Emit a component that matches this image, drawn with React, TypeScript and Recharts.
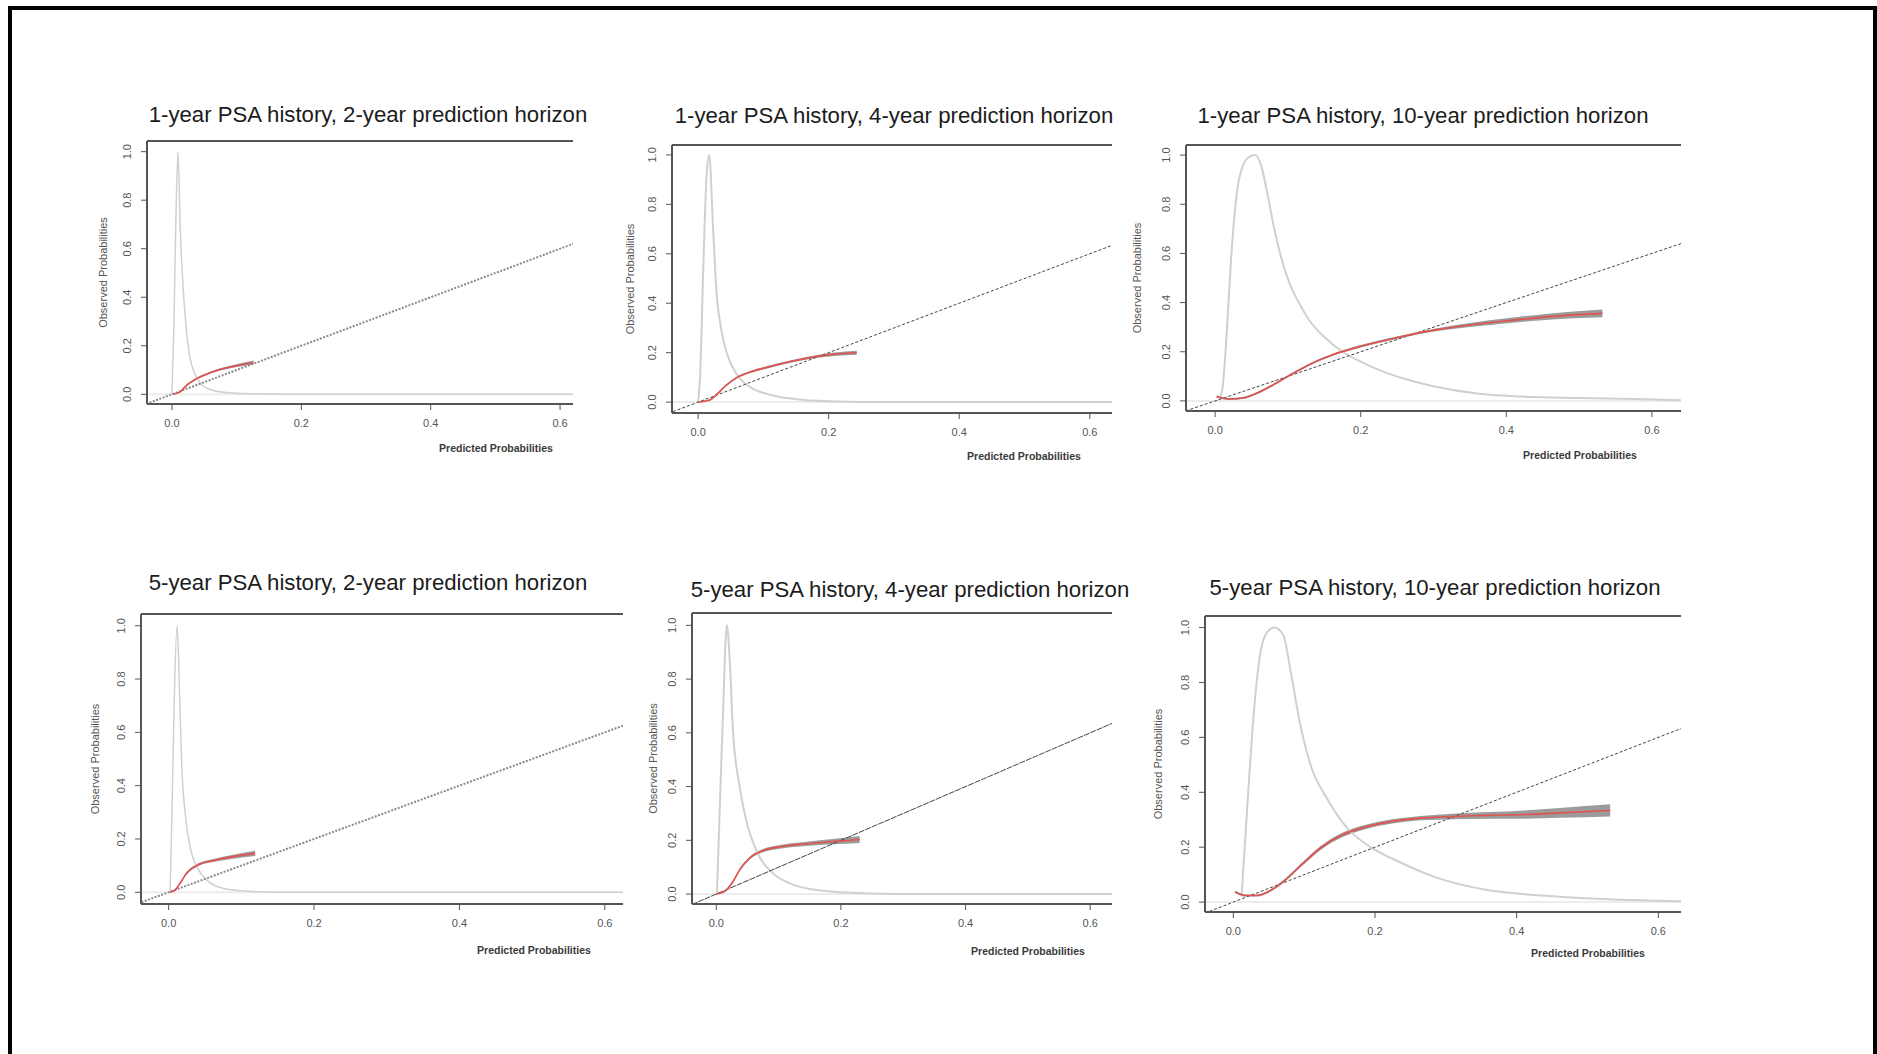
import React from 'react';
import { ComposedChart, Line, Area, XAxis, YAxis, ReferenceLine, Label } from 'recharts';

const FONT = "'Liberation Sans', Arial, sans-serif";

const TICKS_X = [0, 0.2, 0.4, 0.6];
const TICKS_Y = [0, 0.2, 0.4, 0.6, 0.8, 1.0];
const X_TITLE = 'Predicted Probabilities';
const Y_TITLE = 'Observed Probabilities';
const DIAGONAL = [-0.06, 0.7];

const PANEL_TITLES = [
  '1-year PSA history, 2-year prediction horizon',
  '1-year PSA history, 4-year prediction horizon',
  '1-year PSA history, 10-year prediction horizon',
  '5-year PSA history, 2-year prediction horizon',
  '5-year PSA history, 4-year prediction horizon',
  '5-year PSA history, 10-year prediction horizon',
];

// 1-year history, 2-year horizon
const P1_DENS_X = [0.0, 0.003, 0.006, 0.0093, 0.0128, 0.018, 0.023, 0.028, 0.039, 0.054, 0.08, 0.12, 0.2, 0.62];
const P1_DENS_Y = [0.0, 0.28, 0.72, 1.0, 0.68, 0.41, 0.245, 0.15, 0.066, 0.025, 0.008, 0.002, 0.0, 0.0];
const P1_CAL_X = [0.002, 0.013, 0.023, 0.034, 0.044, 0.059, 0.08, 0.1, 0.126];
const P1_CAL_Y = [0.0, 0.011, 0.038, 0.058, 0.072, 0.089, 0.106, 0.118, 0.131];
const P1_CAL_CI = [0.004, 0.004, 0.004, 0.004, 0.004, 0.004, 0.005, 0.006, 0.008];

// 1-year history, 4-year horizon
const P2_DENS_X = [0.0, 0.003, 0.008, 0.013, 0.017, 0.023, 0.028, 0.035, 0.045, 0.06, 0.08, 0.11, 0.15, 0.2, 0.3, 0.64];
const P2_DENS_Y = [0.0, 0.1, 0.55, 0.92, 1.0, 0.7, 0.45, 0.3, 0.19, 0.11, 0.06, 0.03, 0.012, 0.004, 0.0, 0.0];
const P2_CAL_X = [0.0, 0.018, 0.028, 0.043, 0.059, 0.08, 0.106, 0.142, 0.178, 0.209, 0.243];
const P2_CAL_Y = [0.0, 0.009, 0.03, 0.068, 0.099, 0.122, 0.141, 0.164, 0.183, 0.194, 0.2];
const P2_CAL_CI = [0.004, 0.004, 0.004, 0.004, 0.004, 0.004, 0.005, 0.005, 0.006, 0.007, 0.008];

// 1-year history, 10-year horizon
const P3_DENS_X = [0.004, 0.01, 0.016, 0.022, 0.03, 0.04, 0.048, 0.055, 0.063, 0.072, 0.082, 0.092, 0.102, 0.115, 0.13, 0.15, 0.175, 0.2, 0.23, 0.26, 0.3, 0.36, 0.42, 0.5, 0.58, 0.64];
const P3_DENS_Y = [0.0, 0.05, 0.28, 0.58, 0.85, 0.97, 0.995, 1.0, 0.96, 0.84, 0.69, 0.57, 0.48, 0.4, 0.325, 0.26, 0.2, 0.16, 0.12, 0.09, 0.06, 0.03, 0.018, 0.012, 0.008, 0.003];
const P3_CAL_X = [0.002, 0.019, 0.038, 0.057, 0.08, 0.1, 0.12, 0.14, 0.16, 0.2, 0.2555, 0.303, 0.35, 0.398, 0.445, 0.492, 0.532];
const P3_CAL_Y = [0.018, 0.008, 0.012, 0.031, 0.066, 0.1, 0.133, 0.162, 0.186, 0.222, 0.261, 0.289, 0.309, 0.325, 0.339, 0.35, 0.356];
const P3_CAL_CI = [0.004, 0.004, 0.004, 0.004, 0.004, 0.004, 0.004, 0.004, 0.004, 0.005, 0.005, 0.006, 0.008, 0.01, 0.012, 0.014, 0.016];

// 5-year history, 2-year horizon
const P4_DENS_X = [0.002, 0.005, 0.0078, 0.0117, 0.015, 0.018, 0.023, 0.03, 0.04, 0.055, 0.075, 0.1, 0.15, 0.625];
const P4_DENS_Y = [0.0, 0.35, 0.73, 1.0, 0.75, 0.48, 0.29, 0.165, 0.09, 0.04, 0.015, 0.006, 0.0, 0.0];
const P4_CAL_X = [0.002, 0.009, 0.0157, 0.0255, 0.0402, 0.0648, 0.094, 0.119];
const P4_CAL_Y = [0.0, 0.008, 0.034, 0.074, 0.1025, 0.121, 0.136, 0.146];
const P4_CAL_CI = [0.004, 0.004, 0.004, 0.005, 0.005, 0.006, 0.008, 0.01];

// 5-year history, 4-year horizon
const P5_DENS_X = [0.001, 0.0053, 0.0107, 0.017, 0.022, 0.0267, 0.0375, 0.048, 0.064, 0.091, 0.118, 0.161, 0.225, 0.3, 0.64];
const P5_DENS_Y = [0.0, 0.3, 0.67, 1.0, 0.85, 0.61, 0.4, 0.275, 0.164, 0.077, 0.04, 0.015, 0.004, 0.0, 0.0];
const P5_CAL_X = [0.0, 0.016, 0.0267, 0.0375, 0.0535, 0.075, 0.102, 0.145, 0.187, 0.23];
const P5_CAL_Y = [0.0, 0.015, 0.046, 0.09, 0.134, 0.162, 0.176, 0.187, 0.195, 0.203];
const P5_CAL_CI = [0.004, 0.004, 0.004, 0.005, 0.005, 0.006, 0.007, 0.008, 0.01, 0.013];

// 5-year history, 10-year horizon
const P6_DENS_X = [0.0116, 0.02, 0.028, 0.038, 0.048, 0.058, 0.0706, 0.0806, 0.0933, 0.1084, 0.1337, 0.1639, 0.194, 0.2345, 0.285, 0.3606, 0.436, 0.512, 0.632];
const P6_DENS_Y = [0.02, 0.36, 0.66, 0.905, 0.984, 1.0, 0.972, 0.845, 0.662, 0.505, 0.371, 0.261, 0.2, 0.146, 0.091, 0.043, 0.024, 0.012, 0.003];
const P6_CAL_X = [0.0025, 0.0177, 0.033, 0.053, 0.073, 0.098, 0.1236, 0.154, 0.184, 0.2245, 0.2647, 0.31, 0.3606, 0.411, 0.461, 0.532];
const P6_CAL_Y = [0.037, 0.024, 0.024, 0.043, 0.08, 0.14, 0.198, 0.245, 0.272, 0.294, 0.306, 0.312, 0.316, 0.319, 0.325, 0.334];
const P6_CAL_CI = [0.004, 0.004, 0.004, 0.004, 0.005, 0.006, 0.007, 0.008, 0.008, 0.008, 0.008, 0.01, 0.012, 0.015, 0.018, 0.022];

const SERIES = [
  { densX: P1_DENS_X, densY: P1_DENS_Y, calX: P1_CAL_X, calY: P1_CAL_Y, ci: P1_CAL_CI },
  { densX: P2_DENS_X, densY: P2_DENS_Y, calX: P2_CAL_X, calY: P2_CAL_Y, ci: P2_CAL_CI },
  { densX: P3_DENS_X, densY: P3_DENS_Y, calX: P3_CAL_X, calY: P3_CAL_Y, ci: P3_CAL_CI },
  { densX: P4_DENS_X, densY: P4_DENS_Y, calX: P4_CAL_X, calY: P4_CAL_Y, ci: P4_CAL_CI },
  { densX: P5_DENS_X, densY: P5_DENS_Y, calX: P5_CAL_X, calY: P5_CAL_Y, ci: P5_CAL_CI },
  { densX: P6_DENS_X, densY: P6_DENS_Y, calX: P6_CAL_X, calY: P6_CAL_Y, ci: P6_CAL_CI },
];

// plot boxes in page pixels; each R panel is cropped on its right side
const LAYOUT = [
  { left: 147, top: 141, right: 573, bottom: 404, xDomain: [-0.0386, 0.62], yDomain: [-0.04, 1.044], titleX: 368, titleY: 115, xLabelX: 496, xLabelY: 448, yLabelX: 103, dotted: true },
  { left: 672, top: 145, right: 1112, bottom: 413, xDomain: [-0.04, 0.634], yDomain: [-0.044, 1.04], titleX: 894, titleY: 116, xLabelX: 1024, xLabelY: 456, yLabelX: 630, dotted: false },
  { left: 1186, top: 145, right: 1681, bottom: 411, xDomain: [-0.04, 0.64], yDomain: [-0.041, 1.041], titleX: 1423, titleY: 116, xLabelX: 1580, xLabelY: 455, yLabelX: 1137, dotted: false },
  { left: 141, top: 614, right: 623, bottom: 904, xDomain: [-0.038, 0.625], yDomain: [-0.044, 1.044], titleX: 368, titleY: 583, xLabelX: 534, xLabelY: 950, yLabelX: 95, dotted: true },
  { left: 692, top: 613, right: 1112, bottom: 904, xDomain: [-0.039, 0.635], yDomain: [-0.037, 1.046], titleX: 910, titleY: 590, xLabelX: 1028, xLabelY: 951, yLabelX: 653, dotted: false },
  { left: 1205, top: 616, right: 1681, bottom: 912, xDomain: [-0.04, 0.632], yDomain: [-0.036, 1.042], titleX: 1435, titleY: 588, xLabelX: 1588, xLabelY: 953, yLabelX: 1158, dotted: false },
];

const Y_AXIS_W = 64;
const X_AXIS_H = 64;
const TOP_PAD = 4;

const toPoints = (xs: number[], ys: number[]) => xs.map((x, i) => ({ x, y: ys[i] }));
const toBand = (xs: number[], ys: number[], ci: number[]) =>
  xs.map((x, i) => ({ x, band: [ys[i] - ci[i], ys[i] + ci[i]] }));

const XTick = (props: any) => {
  const { x, y, payload } = props;
  return (
    <text x={x} y={y + 13} textAnchor="middle" dominantBaseline="central" fontSize={11} fontFamily={FONT} fill="#555">
      {Number(payload.value).toFixed(1)}
    </text>
  );
};

const YTick = (props: any) => {
  const { x, y, payload } = props;
  const cx = x - 14;
  return (
    <text
      x={cx}
      y={y}
      transform={`rotate(-90, ${cx}, ${y})`}
      textAnchor="middle"
      dominantBaseline="central"
      fontSize={11}
      fontFamily={FONT}
      fill="#555"
    >
      {Number(payload.value).toFixed(1)}
    </text>
  );
};

function CalibrationPanel({ idx }: { idx: number }) {
  const cfg = LAYOUT[idx];
  const s = SERIES[idx];
  const plotW = cfg.right - cfg.left;
  const plotH = cfg.bottom - cfg.top;
  const originX = cfg.left - Y_AXIS_W;
  const originY = cfg.top - TOP_PAD;

  const density = toPoints(s.densX, s.densY);
  const calib = toPoints(s.calX, s.calY);
  const band = toBand(s.calX, s.calY, s.ci);
  const diag = toPoints(DIAGONAL, DIAGONAL);

  const xTitle = () => (
    <text
      x={cfg.xLabelX - originX}
      y={cfg.xLabelY - originY}
      textAnchor="middle"
      dominantBaseline="central"
      fontSize={10.5}
      fontWeight="bold"
      fontFamily={FONT}
      fill="#3a3a3a"
    >
      {X_TITLE}
    </text>
  );
  const yTitle = () => {
    const cx = cfg.yLabelX - originX;
    const cy = TOP_PAD + plotH / 2;
    return (
      <text
        x={cx}
        y={cy}
        transform={`rotate(-90, ${cx}, ${cy})`}
        textAnchor="middle"
        dominantBaseline="central"
        fontSize={11}
        fontFamily={FONT}
        fill="#555"
      >
        {Y_TITLE}
      </text>
    );
  };

  return (
    <>
      <div
        style={{
          position: 'absolute',
          left: cfg.titleX - 300,
          top: cfg.titleY - 14,
          width: 600,
          lineHeight: '28px',
          textAlign: 'center',
          fontFamily: FONT,
          fontSize: 22.2,
          color: '#1c1c1c',
        }}
      >
        {PANEL_TITLES[idx]}
      </div>
      <div style={{ position: 'absolute', left: originX, top: originY }}>
        <ComposedChart
          width={plotW + Y_AXIS_W}
          height={plotH + TOP_PAD + X_AXIS_H}
          margin={{ top: TOP_PAD, right: 0, bottom: 0, left: 0 }}
        >
          <XAxis
            type="number"
            dataKey="x"
            domain={cfg.xDomain}
            allowDataOverflow
            ticks={TICKS_X}
            height={X_AXIS_H}
            tickSize={6}
            tickMargin={0}
            tick={<XTick />}
            axisLine={{ stroke: '#555', strokeWidth: 2 }}
            tickLine={{ stroke: '#555' }}
          >
            <Label content={xTitle} />
          </XAxis>
          <YAxis
            type="number"
            domain={cfg.yDomain}
            allowDataOverflow
            ticks={TICKS_Y}
            width={Y_AXIS_W}
            tickSize={6}
            tickMargin={0}
            tick={<YTick />}
            axisLine={{ stroke: '#555', strokeWidth: 2 }}
            tickLine={{ stroke: '#555' }}
          >
            <Label content={yTitle} />
          </YAxis>
          <ReferenceLine y={cfg.yDomain[1]} stroke="#555" strokeWidth={2} />
          <ReferenceLine y={0} stroke="#ececec" strokeWidth={2} />
          <Line
            data={density}
            dataKey="y"
            type="monotone"
            stroke="#d0d0d0"
            strokeWidth={cfg.dotted ? 1.5 : 2}
            dot={false}
            activeDot={false}
            isAnimationActive={false}
          />
          <Line
            data={diag}
            dataKey="y"
            type="linear"
            stroke={cfg.dotted ? '#8a8a8a' : '#444'}
            strokeWidth={cfg.dotted ? 2 : 1}
            strokeDasharray={cfg.dotted ? '2 1.5' : idx === 4 ? '6 1' : '3 2'}
            dot={false}
            activeDot={false}
            isAnimationActive={false}
          />
          <Area
            data={band}
            dataKey="band"
            type="monotone"
            stroke="none"
            fill="#8a8a8a"
            fillOpacity={0.85}
            isAnimationActive={false}
          />
          <Line
            data={calib}
            dataKey="y"
            type="monotone"
            stroke="#e2534f"
            strokeWidth={1.6}
            dot={false}
            activeDot={false}
            isAnimationActive={false}
          />
        </ComposedChart>
      </div>
    </>
  );
}

export default function App() {
  return (
    <div
      style={{
        position: 'absolute',
        left: 0,
        top: 0,
        width: 1877,
        height: 1054,
        overflow: 'hidden',
        background: '#fff',
      }}
    >
      <div
        style={{
          position: 'absolute',
          left: 8,
          top: 6,
          width: 1869,
          height: 1200,
          boxSizing: 'border-box',
          border: '4px solid #000',
        }}
      />
      {LAYOUT.map((_, i) => (
        <CalibrationPanel key={i} idx={i} />
      ))}
    </div>
  );
}
